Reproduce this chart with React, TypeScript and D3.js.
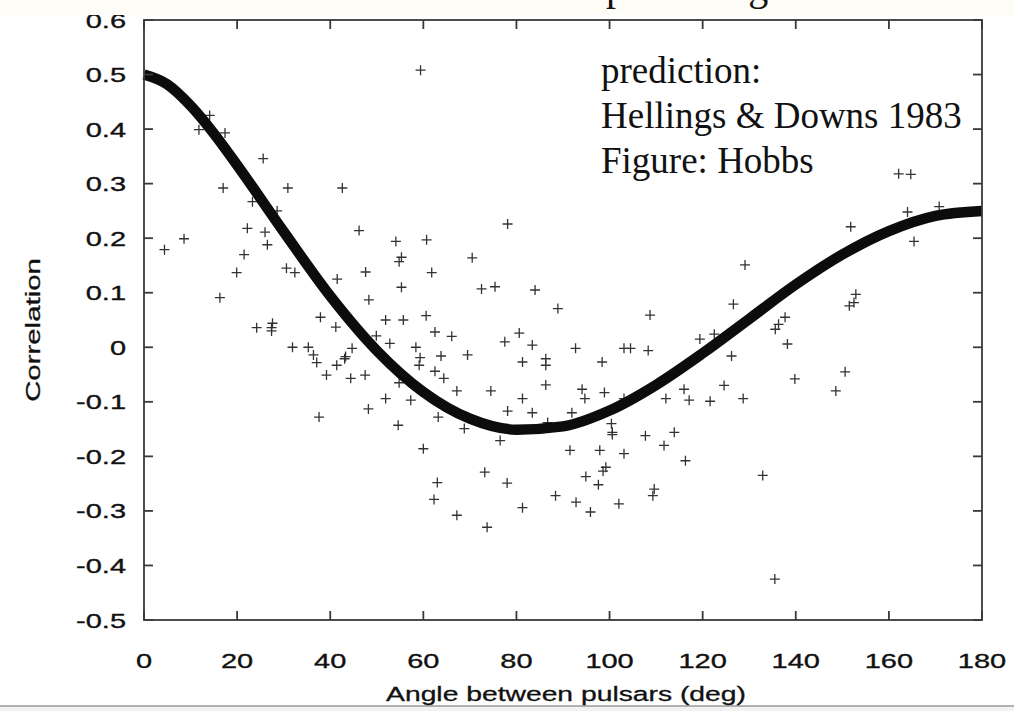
import React from "react";
import * as d3 from "d3";

// Hellings & Downs prediction (angle in deg, correlation)
const curveAngles = [0, 5, 10, 15, 20, 30, 40, 50, 60, 70, 80, 90, 100, 110, 120, 130, 140, 150, 160, 170, 180];
const curveValues = [0.5, 0.482, 0.443, 0.392, 0.334, 0.212, 0.094, -0.006, -0.082, -0.131, -0.151, -0.145, -0.116, -0.069, -0.011, 0.052, 0.115, 0.17, 0.213, 0.241, 0.25];

// Measured pulsar-pair correlations
const pairAngles = [
  59.4, 14.1, 11.8, 17.4, 25.6, 17.0, 30.9, 42.6, 23.3, 28.6, 22.2, 26.0, 26.5, 46.2, 8.6, 4.4, 21.5, 19.9, 30.6, 32.4,
  41.5, 47.6, 54.1, 55.3, 54.8, 16.3, 48.3, 55.3, 60.7, 60.6, 37.9, 51.9, 55.7, 24.2, 27.6, 27.4, 27.4, 41.2, 49.9, 52.8,
  58.4, 59.3, 59.1, 31.9, 35.3, 36.4, 37.1, 39.2, 41.4, 43.3, 43.1, 44.7, 44.4, 47.5, 37.6, 48.2, 51.9, 54.6, 57.3, 54.8,
  60.0, 78.1, 70.5, 61.8, 72.5, 75.4, 84.0, 88.9, 108.7, 62.5, 66.1, 80.6, 77.5, 83.4, 92.7, 103.1, 104.5, 108.3, 63.8, 69.5,
  81.3, 86.3, 86.3, 98.4, 62.5, 64.4, 86.3, 67.2, 74.5, 94.1, 94.7, 98.9, 81.3, 103.1, 116.0, 117.1, 112.1, 78.1, 83.4, 91.9,
  63.2, 68.8, 86.7, 100.4, 100.6, 100.6, 76.5, 107.7, 113.9, 111.7, 91.5, 97.9, 103.1, 116.3, 73.2, 99.2, 98.6, 94.9, 97.6, 63.0,
  78.0, 109.6, 109.3, 62.3, 88.4, 92.8, 102.0, 81.3, 95.9, 67.2, 73.7, 162.1, 164.7, 170.8, 164.0, 165.4, 151.8, 129.1, 126.6, 152.9,
  152.5, 151.5, 137.7, 136.3, 135.6, 119.4, 122.5, 138.2, 126.2, 150.6, 139.8, 124.6, 148.6, 121.6, 128.7, 132.9, 135.5,
];
const pairCorrelations = [
  0.508, 0.425, 0.399, 0.393, 0.346, 0.292, 0.292, 0.292, 0.267, 0.25, 0.218, 0.211, 0.188, 0.214, 0.199, 0.179, 0.17, 0.137, 0.145, 0.137,
  0.125, 0.138, 0.194, 0.165, 0.157, 0.091, 0.087, 0.11, 0.197, 0.058, 0.055, 0.05, 0.05, 0.036, 0.044, 0.036, 0.03, 0.037, 0.021, 0.007,
  0.0, -0.019, -0.033, 0.0, 0.0, -0.014, -0.028, -0.051, -0.033, -0.017, -0.021, -0.002, -0.057, -0.051, -0.128, -0.113, -0.094, -0.143, -0.097, -0.065,
  -0.186, 0.226, 0.164, 0.137, 0.107, 0.111, 0.105, 0.071, 0.059, 0.028, 0.02, 0.026, 0.01, 0.004, -0.002, -0.002, -0.002, -0.006, -0.016, -0.014,
  -0.027, -0.021, -0.033, -0.027, -0.044, -0.057, -0.069, -0.08, -0.08, -0.077, -0.094, -0.083, -0.094, -0.094, -0.077, -0.097, -0.094, -0.117, -0.12, -0.12,
  -0.128, -0.149, -0.138, -0.14, -0.156, -0.16, -0.171, -0.162, -0.156, -0.18, -0.189, -0.189, -0.195, -0.208, -0.229, -0.22, -0.227, -0.237, -0.252, -0.248,
  -0.249, -0.26, -0.272, -0.279, -0.272, -0.284, -0.287, -0.294, -0.302, -0.308, -0.33, 0.318, 0.317, 0.258, 0.248, 0.194, 0.221, 0.151, 0.079, 0.097,
  0.082, 0.076, 0.055, 0.042, 0.033, 0.015, 0.024, 0.006, -0.016, -0.045, -0.058, -0.07, -0.08, -0.099, -0.094, -0.235, -0.425,
];

const xTicks = [0, 20, 40, 60, 80, 100, 120, 140, 160, 180];
const yTicks = [-0.5, -0.4, -0.3, -0.2, -0.1, 0, 0.1, 0.2, 0.3, 0.4, 0.5, 0.6];
const noteLines = ["prediction:", "Hellings & Downs 1983", "Figure: Hobbs"];
const titleText = "predicting";
const xTitle = "Angle between pulsars (deg)";
const yTitle = "Correlation";

const W = 1014;
const H = 711;
const L = 144, R = 982, T = 20, B = 620;
const sans = "'Liberation Sans', Arial, Helvetica, sans-serif";
const serif = "'Liberation Serif', 'Times New Roman', serif";
const STRETCH = 1.38;

export default function App() {
  const x = d3.scaleLinear().domain([0, 180]).range([L, R]);
  const y = d3.scaleLinear().domain([-0.5, 0.6]).range([B, T]);
  const curveData = curveAngles.map((a, i) => [a, curveValues[i]] as [number, number]);
  const line = d3
    .line<[number, number]>()
    .x((d) => x(d[0]))
    .y((d) => y(d[1]))
    .curve(d3.curveMonotoneX);
  const pts = pairAngles.map((a, i) => [a, pairCorrelations[i]]);
  const tickLen = 9;
  const fmtY = (v: number) => (Math.abs(v) < 1e-9 ? "0" : v.toFixed(1));
  const fmtX = (v: number) => String(Math.round(v));

  return (
    <svg
      width={W}
      height={H}
      viewBox={`0 0 ${W} ${H}`}
      style={{ position: "absolute", left: 0, top: 0, background: "#ffffff" }}
    >
      <rect x={0} y={0} width={W} height={H} fill="#ffffff" />
      <rect x={0} y={706} width={W} height={H - 706} fill="#f2f2f2" />
      <line x1={0} x2={W} y1={706} y2={706} stroke="#9a9a9a" strokeWidth={1.5} />

      {/* points */}
      <g stroke="#333" strokeWidth={1.3} fill="none">
        {pts.map((p, i) => {
          const cx = x(p[0]);
          const cy = y(p[1]);
          return (
            <path key={i} d={`M${cx - 5},${cy}H${cx + 5}M${cx},${cy - 5}V${cy + 5}`} />
          );
        })}
      </g>

      {/* prediction curve */}
      <path d={line(curveData) || ""} fill="none" stroke="#0c0c0c" strokeWidth={10.5} />

      {/* frame and ticks */}
      <g stroke="#3a3a3a" strokeWidth={1.8} fill="none">
        <rect x={L} y={T} width={R - L} height={B - T} fill="none" />
        {xTicks.map((t) => (
          <g key={"xt" + t}>
            <line x1={x(t)} x2={x(t)} y1={B} y2={B - tickLen} />
            <line x1={x(t)} x2={x(t)} y1={T} y2={T + tickLen} />
          </g>
        ))}
        {yTicks.map((t) => (
          <g key={"yt" + t}>
            <line x1={L} x2={L + tickLen} y1={y(t)} y2={y(t)} />
            <line x1={R} x2={R - tickLen} y1={y(t)} y2={y(t)} />
          </g>
        ))}
      </g>

      {/* tick labels (the figure is stretched horizontally) */}
      <g fontFamily={sans} fontSize={21} fill="#111" stroke="#111" strokeWidth={0.35}>
        {xTicks.map((t) => (
          <text
            key={"xl" + t}
            transform={`translate(${x(t)},668) scale(${STRETCH},1)`}
            textAnchor="middle"
          >
            {fmtX(t)}
          </text>
        ))}
        {yTicks.map((t) => (
          <text
            key={"yl" + t}
            transform={`translate(126,${y(t) + 7.5}) scale(${STRETCH},1)`}
            textAnchor="end"
          >
            {fmtY(t)}
          </text>
        ))}
      </g>

      <text
        transform={`translate(566,701) scale(${STRETCH},1)`}
        textAnchor="middle"
        fontFamily={sans}
        fontSize={20.5}
        fill="#111"
        stroke="#111"
        strokeWidth={0.3}
      >
        {xTitle}
      </text>
      <text
        transform={`translate(40,330) rotate(-90) scale(1.4,1)`}
        textAnchor="middle"
        fontFamily={sans}
        fontSize={21}
        fill="#111"
        stroke="#111"
        strokeWidth={0.3}
      >
        {yTitle}
      </text>

      <g fontFamily={serif} fontSize={37} fill="#111">
        {noteLines.map((s, i) => (
          <text key={s} x={601} y={83 + i * 45}>
            {s}
          </text>
        ))}
      </g>

      {/* slide title strip overlapping the top of the figure */}
      <rect x={0} y={0} width={W} height={15} fill="#fdfcf6" />
      <text x={606} y={0} fontFamily={serif} fontSize={40} fill="#111">
        {titleText}
      </text>
    </svg>
  );
}
